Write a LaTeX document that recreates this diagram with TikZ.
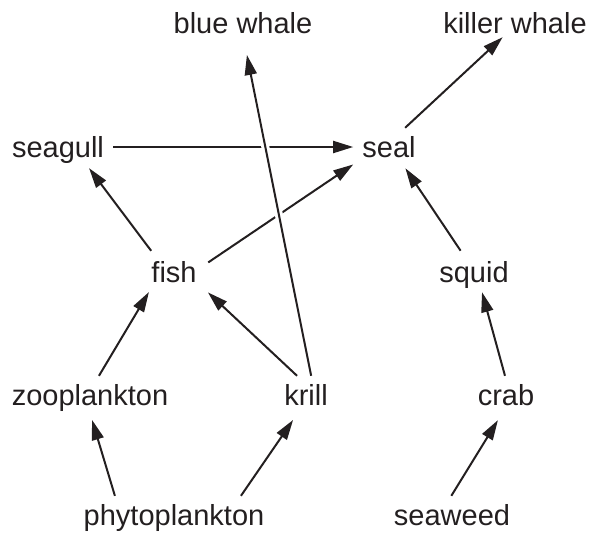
\documentclass[tikz,border=0pt]{standalone}
\usepackage{fontspec}
\setmainfont{Liberation Sans}
\usepackage{tikz}
\usetikzlibrary{
    arrows.meta
}
\definecolor{ink}{HTML}{231F20}
\tikzset{
    >={Triangle[length=20pt,width=12pt]},
    organism/.style={
        anchor=base,
        text height=20pt,
        text depth=0pt,
        inner sep=9pt,
        text=ink,
        font=\fontsize{29}{34}\selectfont
    },
    eats/.style={
        color=ink,
        line width=2pt
    }
}

\begin{document}
\begin{tikzpicture}[
    x=1pt,
    y=-1pt
]
    \useasboundingbox (0,0) rectangle (591,533);

    % Organismos
    \node[organism] (bw) at (243,33)  {blue whale};
    \node[organism, inner ysep=4pt] (kw) at (515,33) {killer whale};
    \node[organism] (sg) at (58,157)  {seagull};
    \node[organism] (se) at (389,157) {seal};
    \node[organism] (fi) at (174,282) {fish};
    \node[organism] (sq) at (474,282) {squid};
    \node[organism] (zo) at (90,405)  {zooplankton};
    \node[organism] (kr) at (306,405) {krill};
    \node[organism] (cr) at (506,405) {crab};
    \node[organism] (ph) at (174,525) {phytoplankton};
    \node[organism] (sw) at (452,525) {seaweed};

    % Quien come a quien
    \path[->, eats]

        % productores
        (ph.162) edge[shorten >=6pt] (zo.271)
        (ph.16)  edge[shorten >=7pt] (kr.245)
        (sw.92)  edge[shorten >=7pt] (cr.257)

        % consumidores
        (zo.65)  edge[shorten >=1pt] (fi.218)
        (kr.115) edge[shorten >=3pt] (fi.330)
        (cr.93)  edge[shorten >=1pt] (sq.292)
        (fi.138) edge[shorten <=2.5pt, shorten >=2.5pt] (sg.327)
        (fi.14)  edge[shorten <=3pt] (se.206)
        (sq.122) edge[shorten <=2.5pt, shorten >=2.5pt] (se.308)
        (sg)     edge (se)
        (se.50)  edge (kw.229);

    % krill -> blue whale, over the rest
    \draw[->, eats, shorten >=13pt,
        preaction={draw=white, line width=8pt, -}]
        (kr.75) -- (bw.274);

\end{tikzpicture}
\end{document}
